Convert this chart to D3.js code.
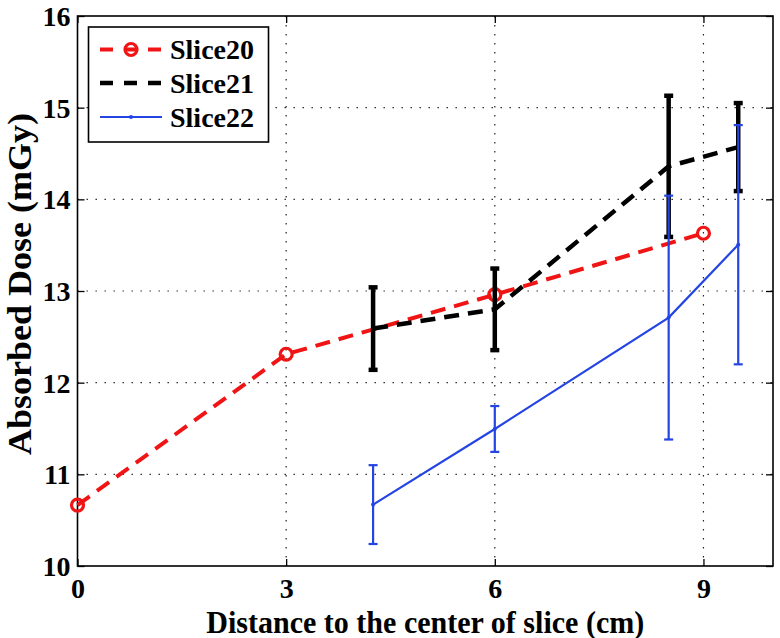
<!DOCTYPE html>
<html>
<head>
<meta charset="utf-8">
<script src="https://cdn.jsdelivr.net/npm/d3@7"></script>
<style>
  html, body { margin: 0; padding: 0; background: #fff; }
  svg { display: block; }
  text { font-family: "Liberation Serif", "Times New Roman", serif; font-weight: bold; fill: #000; }
</style>
</head>
<body>
<svg id="chart" width="780" height="638"></svg>
<script>
// ---- data ----
const seriesNames = ["Slice20", "Slice21", "Slice22"];
const slice20X = [0, 3, 6, 9];
const slice20Y = [10.665, 12.31, 12.96, 13.63];
const slice21X = [4.25, 6, 8.5, 9.5];
const slice21Y = [12.59, 12.80, 14.36, 14.57];
const slice21Err = [0.45, 0.445, 0.77, 0.48];
const slice22X = [4.25, 6, 8.5, 9.5];
const slice22Y = [10.67, 11.495, 12.71, 13.505];
const slice22Err = [0.43, 0.25, 1.33, 1.305];
const xTicks = [0, 3, 6, 9];
const yTicks = [10, 11, 12, 13, 14, 15, 16];
const xLabel = "Distance to the center of slice (cm)";
const yLabel = "Absorbed Dose (mGy)";

(function () {
// ---- layout ----
const svg = d3.select("#chart");
const pL = 77.5, pR = 773, pT = 16, pB = 566;
const x = d3.scaleLinear().domain([0, 10]).range([pL, pR]);
const y = d3.scaleLinear().domain([10, 16]).range([pB, pT]);
const FONT = '"Liberation Serif", "Times New Roman", serif';

const RED = "#f01414", BLACK = "#000", BLUE = "#2444e4";

// grid
const grid = svg.append("g");
xTicks.filter(v => v > 0).forEach(v => {
  grid.append("line").attr("x1", x(v)).attr("x2", x(v)).attr("y1", pT).attr("y2", pB)
    .attr("stroke", "#222").attr("stroke-width", 1.2).attr("stroke-dasharray", "1.4,7.6");
});
yTicks.filter(v => v > 10 && v < 16).forEach(v => {
  grid.append("line").attr("x1", pL).attr("x2", pR).attr("y1", y(v)).attr("y2", y(v))
    .attr("stroke", "#222").attr("stroke-width", 1.2).attr("stroke-dasharray", "1.4,7.6");
});

// axes with inward ticks, mirrored
const fmt = d3.format("d");
const axB = d3.axisBottom(x).tickValues(xTicks).tickFormat(fmt).tickSizeInner(-7).tickSizeOuter(0);
const axT = d3.axisTop(x).tickValues(xTicks).tickSizeInner(-7).tickSizeOuter(0).tickFormat("");
const axL = d3.axisLeft(y).tickValues(yTicks).tickFormat(fmt).tickSizeInner(-7).tickSizeOuter(0);
const axR = d3.axisRight(y).tickValues(yTicks).tickSizeInner(-7).tickSizeOuter(0).tickFormat("");

function styleAxis(g) {
  g.attr("font-family", null).attr("font-size", null);
  g.select(".domain").remove();
  g.selectAll(".tick line").attr("stroke", "#000").attr("stroke-width", 1.3);
  g.selectAll(".tick text").style("font-size", "28px").style("font-family", FONT)
    .style("font-weight", "bold").attr("fill", "#000");
}
svg.append("g").attr("transform", `translate(0,${pB})`).call(axB).call(styleAxis)
  .selectAll(".tick text").attr("y", 12).attr("dy", "0.71em");
svg.append("g").attr("transform", `translate(0,${pT})`).call(axT).call(styleAxis);
svg.append("g").attr("transform", `translate(${pL},0)`).call(axL).call(styleAxis)
  .selectAll(".tick text").attr("x", -7).attr("dy", "0.34em");
svg.append("g").attr("transform", `translate(${pR},0)`).call(axR).call(styleAxis);

// box
svg.append("rect").attr("x", pL).attr("y", pT).attr("width", pR - pL).attr("height", pB - pT)
  .attr("fill", "none").attr("stroke", "#000").attr("stroke-width", 1.6);

// series
const line = d3.line().x(d => x(d[0])).y(d => y(d[1]));

// Slice20
const s20 = slice20X.map((v, i) => [v, slice20Y[i]]);
svg.append("path").attr("d", line(s20)).attr("fill", "none").attr("stroke", RED)
  .attr("stroke-width", 4).attr("stroke-dasharray", "15,9");
svg.selectAll(".m20").data(s20).enter().append("circle")
  .attr("cx", d => x(d[0])).attr("cy", d => y(d[1])).attr("r", 6)
  .attr("fill", "none").attr("stroke", RED).attr("stroke-width", 3.2);

// Slice21
const s21 = slice21X.map((v, i) => [v, slice21Y[i], slice21Err[i]]);
svg.append("path").attr("d", line(s21)).attr("fill", "none").attr("stroke", BLACK)
  .attr("stroke-width", 4.5).attr("stroke-dasharray", "15,9");
const eb21 = svg.append("g");
s21.forEach(d => {
  eb21.append("line").attr("x1", x(d[0])).attr("x2", x(d[0])).attr("y1", y(d[1] - d[2])).attr("y2", y(d[1] + d[2]))
    .attr("stroke", BLACK).attr("stroke-width", 4.5);
  [d[1] - d[2], d[1] + d[2]].forEach(v => {
    eb21.append("line").attr("x1", x(d[0]) - 4.5).attr("x2", x(d[0]) + 4.5).attr("y1", y(v)).attr("y2", y(v))
      .attr("stroke", BLACK).attr("stroke-width", 4.5);
  });
});

// Slice22
const s22 = slice22X.map((v, i) => [v, slice22Y[i], slice22Err[i]]);
svg.append("path").attr("d", line(s22)).attr("fill", "none").attr("stroke", BLUE).attr("stroke-width", 2.2);
const eb22 = svg.append("g");
s22.forEach(d => {
  eb22.append("line").attr("x1", x(d[0])).attr("x2", x(d[0])).attr("y1", y(d[1] - d[2])).attr("y2", y(d[1] + d[2]))
    .attr("stroke", BLUE).attr("stroke-width", 2.2);
  [d[1] - d[2], d[1] + d[2]].forEach(v => {
    eb22.append("line").attr("x1", x(d[0]) - 4.5).attr("x2", x(d[0]) + 4.5).attr("y1", y(v)).attr("y2", y(v))
      .attr("stroke", BLUE).attr("stroke-width", 2.2);
  });
  eb22.append("circle").attr("cx", x(d[0])).attr("cy", y(d[1])).attr("r", 2).attr("fill", BLUE);
});

// axis titles (slightly condensed like the reference)
svg.append("text").attr("x", (pL + pR) / 2).attr("y", 632.5).attr("text-anchor", "middle")
  .attr("textLength", 438).attr("lengthAdjust", "spacingAndGlyphs")
  .style("font-size", "31px").text(xLabel);
svg.append("text").attr("transform", `translate(31,284) rotate(-90)`).attr("text-anchor", "middle")
  .attr("textLength", 342).attr("lengthAdjust", "spacingAndGlyphs")
  .style("font-size", "33px").text(yLabel);

// legend
const lg = svg.append("g");
lg.append("rect").attr("x", 88.5).attr("y", 27).attr("width", 180).attr("height", 115)
  .attr("fill", "#fff").attr("stroke", "#000").attr("stroke-width", 1.6);
const rows = [49.5, 83, 117];
const lx1 = 100, lx2 = 162, tx = 170;
lg.append("line").attr("x1", lx1).attr("x2", lx2).attr("y1", rows[0]).attr("y2", rows[0])
  .attr("stroke", RED).attr("stroke-width", 4).attr("stroke-dasharray", "13,11");
lg.append("circle").attr("cx", (lx1 + lx2) / 2).attr("cy", rows[0]).attr("r", 6)
  .attr("fill", "none").attr("stroke", RED).attr("stroke-width", 3.2);
lg.append("line").attr("x1", lx1).attr("x2", lx2).attr("y1", rows[1]).attr("y2", rows[1])
  .attr("stroke", BLACK).attr("stroke-width", 4.5).attr("stroke-dasharray", "13,11");
lg.append("line").attr("x1", lx1).attr("x2", lx2).attr("y1", rows[2]).attr("y2", rows[2])
  .attr("stroke", BLUE).attr("stroke-width", 2.2);
lg.append("circle").attr("cx", (lx1 + lx2) / 2).attr("cy", rows[2]).attr("r", 2).attr("fill", BLUE);
seriesNames.forEach((n, i) => {
  lg.append("text").attr("x", tx).attr("y", rows[i]).attr("dy", "0.35em").style("font-size", "28px").text(n);
});
})();
</script>
</body>
</html>
